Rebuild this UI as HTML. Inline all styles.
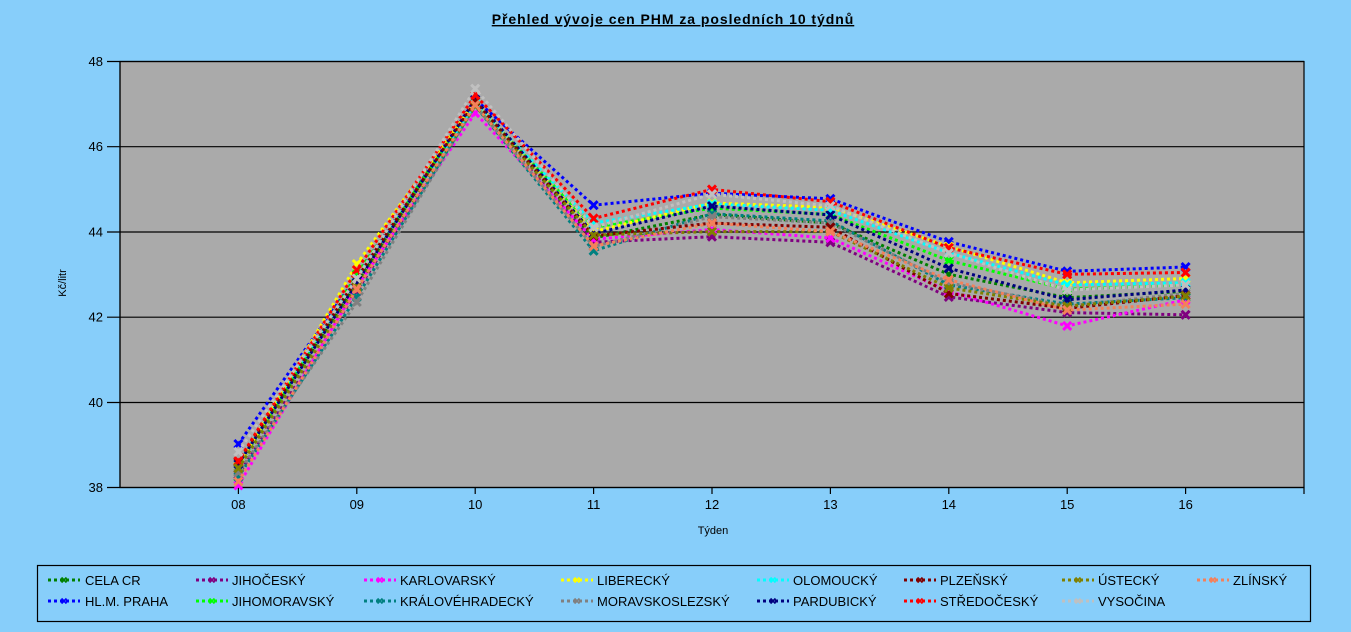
<!DOCTYPE html>
<html>
<head>
<meta charset="utf-8">
<style>
html,body{margin:0;padding:0;background:#87CEFA;}
svg{display:block;}
text{font-family:"Liberation Sans",Arial,sans-serif;fill:#000;}
</style>
</head>
<body>
<svg width="1351" height="632" viewBox="0 0 1351 632" xmlns="http://www.w3.org/2000/svg">
<defs>
<marker id="m1" markerWidth="12" markerHeight="12" refX="6" refY="6" markerUnits="userSpaceOnUse" overflow="visible"><path d="M2,2L10,10M2,10L10,2" stroke="#008000" stroke-width="3" fill="none"/></marker>
<marker id="m2" markerWidth="12" markerHeight="12" refX="6" refY="6" markerUnits="userSpaceOnUse" overflow="visible"><path d="M2,2L10,10M2,10L10,2" stroke="#0000FF" stroke-width="3" fill="none"/></marker>
<marker id="m3" markerWidth="12" markerHeight="12" refX="6" refY="6" markerUnits="userSpaceOnUse" overflow="visible"><path d="M2,2L10,10M2,10L10,2" stroke="#800080" stroke-width="3" fill="none"/></marker>
<marker id="m4" markerWidth="12" markerHeight="12" refX="6" refY="6" markerUnits="userSpaceOnUse" overflow="visible"><path d="M2,2L10,10M2,10L10,2" stroke="#00FF00" stroke-width="3" fill="none"/></marker>
<marker id="m5" markerWidth="12" markerHeight="12" refX="6" refY="6" markerUnits="userSpaceOnUse" overflow="visible"><path d="M2,2L10,10M2,10L10,2" stroke="#FF00FF" stroke-width="3" fill="none"/></marker>
<marker id="m6" markerWidth="12" markerHeight="12" refX="6" refY="6" markerUnits="userSpaceOnUse" overflow="visible"><path d="M2,2L10,10M2,10L10,2" stroke="#008080" stroke-width="3" fill="none"/></marker>
<marker id="m7" markerWidth="12" markerHeight="12" refX="6" refY="6" markerUnits="userSpaceOnUse" overflow="visible"><path d="M2,2L10,10M2,10L10,2" stroke="#FFFF00" stroke-width="3" fill="none"/></marker>
<marker id="m8" markerWidth="12" markerHeight="12" refX="6" refY="6" markerUnits="userSpaceOnUse" overflow="visible"><path d="M2,2L10,10M2,10L10,2" stroke="#808080" stroke-width="3" fill="none"/></marker>
<marker id="m9" markerWidth="12" markerHeight="12" refX="6" refY="6" markerUnits="userSpaceOnUse" overflow="visible"><path d="M2,2L10,10M2,10L10,2" stroke="#00FFFF" stroke-width="3" fill="none"/></marker>
<marker id="m10" markerWidth="12" markerHeight="12" refX="6" refY="6" markerUnits="userSpaceOnUse" overflow="visible"><path d="M2,2L10,10M2,10L10,2" stroke="#000080" stroke-width="3" fill="none"/></marker>
<marker id="m11" markerWidth="12" markerHeight="12" refX="6" refY="6" markerUnits="userSpaceOnUse" overflow="visible"><path d="M2,2L10,10M2,10L10,2" stroke="#800000" stroke-width="3" fill="none"/></marker>
<marker id="m12" markerWidth="12" markerHeight="12" refX="6" refY="6" markerUnits="userSpaceOnUse" overflow="visible"><path d="M2,2L10,10M2,10L10,2" stroke="#FF0000" stroke-width="3" fill="none"/></marker>
<marker id="m13" markerWidth="12" markerHeight="12" refX="6" refY="6" markerUnits="userSpaceOnUse" overflow="visible"><path d="M2,2L10,10M2,10L10,2" stroke="#808000" stroke-width="3" fill="none"/></marker>
<marker id="m14" markerWidth="12" markerHeight="12" refX="6" refY="6" markerUnits="userSpaceOnUse" overflow="visible"><path d="M2,2L10,10M2,10L10,2" stroke="#C0C0C0" stroke-width="3" fill="none"/></marker>
<marker id="m15" markerWidth="12" markerHeight="12" refX="6" refY="6" markerUnits="userSpaceOnUse" overflow="visible"><path d="M2,2L10,10M2,10L10,2" stroke="#F4805A" stroke-width="3" fill="none"/></marker>
</defs>

<rect x="0" y="0" width="1351" height="632" fill="#87CEFA"/>

<!-- title -->
<text x="673" y="24" text-anchor="middle" font-size="14" font-weight="bold" letter-spacing="0.95" text-decoration="underline">Přehled vývoje cen PHM za posledních 10 týdnů</text>

<!-- plot area -->
<rect x="120" y="61.5" width="1184" height="426" fill="#AAAAAA" stroke="#000" stroke-width="1.2"/>

<!-- gridlines & y ticks -->
<g stroke="#000" stroke-width="1.2">
<line x1="107" y1="61.5" x2="1304" y2="61.5"/>
<line x1="107" y1="146.7" x2="1304" y2="146.7"/>
<line x1="107" y1="232" x2="1304" y2="232"/>
<line x1="107" y1="317.2" x2="1304" y2="317.2"/>
<line x1="107" y1="402.5" x2="1304" y2="402.5"/>
<line x1="107" y1="487.5" x2="1304" y2="487.5"/>
<line x1="120" y1="61.5" x2="120" y2="487.5"/>
<line x1="238.4" y1="487.5" x2="238.4" y2="494"/>
<line x1="356.8" y1="487.5" x2="356.8" y2="494"/>
<line x1="475.2" y1="487.5" x2="475.2" y2="494"/>
<line x1="593.6" y1="487.5" x2="593.6" y2="494"/>
<line x1="712" y1="487.5" x2="712" y2="494"/>
<line x1="830.4" y1="487.5" x2="830.4" y2="494"/>
<line x1="948.8" y1="487.5" x2="948.8" y2="494"/>
<line x1="1067.2" y1="487.5" x2="1067.2" y2="494"/>
<line x1="1185.6" y1="487.5" x2="1185.6" y2="494"/>
<line x1="1304" y1="487.5" x2="1304" y2="494"/>
</g>

<!-- y labels -->
<g font-size="13" text-anchor="end">
<text x="103" y="66">48</text>
<text x="103" y="151">46</text>
<text x="103" y="236.5">44</text>
<text x="103" y="321.5">42</text>
<text x="103" y="407">40</text>
<text x="103" y="492">38</text>
</g>
<text transform="translate(66,283) rotate(-90)" font-size="11" text-anchor="middle">Kč/litr</text>

<!-- x labels -->
<g font-size="13" text-anchor="middle">
<text x="238.4" y="509">08</text>
<text x="356.8" y="509">09</text>
<text x="475.2" y="509">10</text>
<text x="593.6" y="509">11</text>
<text x="712" y="509">12</text>
<text x="830.4" y="509">13</text>
<text x="948.8" y="509">14</text>
<text x="1067.2" y="509">15</text>
<text x="1185.6" y="509">16</text>
</g>
<text x="713" y="534" font-size="11" text-anchor="middle">Týden</text>

<!-- series -->
<g fill="none" stroke-width="3" stroke-dasharray="3 3">
<polyline stroke="#008000" marker-start="url(#m1)" marker-mid="url(#m1)" marker-end="url(#m1)" points="238.4,468.3 356.8,282.8 475.2,101.5 593.6,238.0 712,214.5 830.4,223.1 948.8,274.3 1067.2,297.7 1185.6,291.3"/>
<polyline stroke="#0000FF" marker-start="url(#m2)" marker-mid="url(#m2)" marker-end="url(#m2)" points="238.4,444.0 356.8,276.4 475.2,99.4 593.6,205.2 712,193.2 830.4,198.8 948.8,241.8 1067.2,271.3 1185.6,267.0"/>
<polyline stroke="#800080" marker-start="url(#m3)" marker-mid="url(#m3)" marker-end="url(#m3)" points="238.4,474.7 356.8,291.3 475.2,105.8 593.6,242.3 712,236.7 830.4,242.3 948.8,296.9 1067.2,312.6 1185.6,314.8"/>
<polyline stroke="#00FF00" marker-start="url(#m4)" marker-mid="url(#m4)" marker-end="url(#m4)" points="238.4,466.2 356.8,274.3 475.2,103.7 593.6,227.3 712,208.1 830.4,214.5 948.8,260.6 1067.2,289.2 1185.6,284.9"/>
<polyline stroke="#FF00FF" marker-start="url(#m5)" marker-mid="url(#m5)" marker-end="url(#m5)" points="238.4,485.4 356.8,287.0 475.2,113.0 593.6,239.3 712,229.5 830.4,238.0 948.8,291.3 1067.2,325.9 1185.6,299.8"/>
<polyline stroke="#008080" marker-start="url(#m6)" marker-mid="url(#m6)" marker-end="url(#m6)" points="238.4,476.8 356.8,296.9 475.2,105.8 593.6,250.8 712,213.7 830.4,220.9 948.8,284.9 1067.2,304.1 1185.6,297.7"/>
<polyline stroke="#FFFF00" marker-start="url(#m7)" marker-mid="url(#m7)" marker-end="url(#m7)" points="238.4,466.2 356.8,264.0 475.2,101.5 593.6,231.6 712,203.0 830.4,207.3 948.8,246.5 1067.2,282.8 1185.6,278.5"/>
<polyline stroke="#808080" marker-start="url(#m8)" marker-mid="url(#m8)" marker-end="url(#m8)" points="238.4,472.6 356.8,302.0 475.2,105.8 593.6,246.5 712,216.7 830.4,223.1 948.8,282.8 1067.2,306.2 1185.6,293.4"/>
<polyline stroke="#00FFFF" marker-start="url(#m9)" marker-mid="url(#m9)" marker-end="url(#m9)" points="238.4,464.0 356.8,278.5 475.2,103.7 593.6,223.1 712,203.9 830.4,210.3 948.8,252.9 1067.2,284.9 1185.6,282.8"/>
<polyline stroke="#000080" marker-start="url(#m10)" marker-mid="url(#m10)" marker-end="url(#m10)" points="238.4,464.0 356.8,282.8 475.2,99.4 593.6,233.7 712,206.0 830.4,215.0 948.8,268.3 1067.2,299.8 1185.6,290.0"/>
<polyline stroke="#800000" marker-start="url(#m11)" marker-mid="url(#m11)" marker-end="url(#m11)" points="238.4,461.9 356.8,278.5 475.2,101.5 593.6,235.9 712,223.1 830.4,227.3 948.8,293.4 1067.2,308.4 1185.6,295.6"/>
<polyline stroke="#FF0000" marker-start="url(#m12)" marker-mid="url(#m12)" marker-end="url(#m12)" points="238.4,461.1 356.8,270.0 475.2,95.1 593.6,218.4 712,189.4 830.4,201.7 948.8,247.8 1067.2,274.3 1185.6,272.5"/>
<polyline stroke="#808000" marker-start="url(#m13)" marker-mid="url(#m13)" marker-end="url(#m13)" points="238.4,468.3 356.8,287.0 475.2,105.8 593.6,235.0 712,231.6 830.4,231.6 948.8,287.9 1067.2,306.2 1185.6,296.0"/>
<polyline stroke="#C0C0C0" marker-start="url(#m14)" marker-mid="url(#m14)" marker-end="url(#m14)" points="238.4,451.7 356.8,278.5 475.2,88.7 593.6,227.3 712,194.1 830.4,206.0 948.8,252.9 1067.2,290.0 1185.6,284.9"/>
<polyline stroke="#F4805A" marker-start="url(#m15)" marker-mid="url(#m15)" marker-end="url(#m15)" points="238.4,481.5 356.8,289.2 475.2,104.9 593.6,246.1 712,223.1 830.4,231.6 948.8,279.8 1067.2,310.1 1185.6,304.1"/>
</g>

<!-- legend -->
<rect x="37.5" y="565.5" width="1273" height="56" fill="none" stroke="#000" stroke-width="1.2"/>
<g fill="none" stroke-width="3" stroke-dasharray="3 3">
<line x1="48" y1="580" x2="80" y2="580" stroke="#008000"/>
<line x1="48" y1="601" x2="80" y2="601" stroke="#0000FF"/>
<line x1="196" y1="580" x2="228" y2="580" stroke="#800080"/>
<line x1="196" y1="601" x2="228" y2="601" stroke="#00FF00"/>
<line x1="364" y1="580" x2="396" y2="580" stroke="#FF00FF"/>
<line x1="364" y1="601" x2="396" y2="601" stroke="#008080"/>
<line x1="561" y1="580" x2="593" y2="580" stroke="#FFFF00"/>
<line x1="561" y1="601" x2="593" y2="601" stroke="#808080"/>
<line x1="757" y1="580" x2="789" y2="580" stroke="#00FFFF"/>
<line x1="757" y1="601" x2="789" y2="601" stroke="#000080"/>
<line x1="904" y1="580" x2="936" y2="580" stroke="#800000"/>
<line x1="904" y1="601" x2="936" y2="601" stroke="#FF0000"/>
<line x1="1062" y1="580" x2="1094" y2="580" stroke="#808000"/>
<line x1="1062" y1="601" x2="1094" y2="601" stroke="#C0C0C0"/>
<line x1="1197" y1="580" x2="1229" y2="580" stroke="#F4805A"/>
</g>
<g stroke-width="1.8" fill="none">
<path d="M61.5,577.5L66.5,582.5M61.5,582.5L66.5,577.5" stroke="#008000"/>
<path d="M61.5,598.5L66.5,603.5M61.5,603.5L66.5,598.5" stroke="#0000FF"/>
<path d="M209.5,577.5L214.5,582.5M209.5,582.5L214.5,577.5" stroke="#800080"/>
<path d="M209.5,598.5L214.5,603.5M209.5,603.5L214.5,598.5" stroke="#00FF00"/>
<path d="M377.5,577.5L382.5,582.5M377.5,582.5L382.5,577.5" stroke="#FF00FF"/>
<path d="M377.5,598.5L382.5,603.5M377.5,603.5L382.5,598.5" stroke="#008080"/>
<path d="M574.5,577.5L579.5,582.5M574.5,582.5L579.5,577.5" stroke="#FFFF00"/>
<path d="M574.5,598.5L579.5,603.5M574.5,603.5L579.5,598.5" stroke="#808080"/>
<path d="M770.5,577.5L775.5,582.5M770.5,582.5L775.5,577.5" stroke="#00FFFF"/>
<path d="M770.5,598.5L775.5,603.5M770.5,603.5L775.5,598.5" stroke="#000080"/>
<path d="M917.5,577.5L922.5,582.5M917.5,582.5L922.5,577.5" stroke="#800000"/>
<path d="M917.5,598.5L922.5,603.5M917.5,603.5L922.5,598.5" stroke="#FF0000"/>
<path d="M1075.5,577.5L1080.5,582.5M1075.5,582.5L1080.5,577.5" stroke="#808000"/>
<path d="M1075.5,598.5L1080.5,603.5M1075.5,603.5L1080.5,598.5" stroke="#C0C0C0"/>
<path d="M1210.5,577.5L1215.5,582.5M1210.5,582.5L1215.5,577.5" stroke="#F4805A"/>
</g>
<g font-size="13">
<text x="85" y="585">CELA CR</text>
<text x="85" y="606">HL.M. PRAHA</text>
<text x="232" y="585">JIHOČESKÝ</text>
<text x="232" y="606">JIHOMORAVSKÝ</text>
<text x="400" y="585">KARLOVARSKÝ</text>
<text x="400" y="606">KRÁLOVÉHRADECKÝ</text>
<text x="597" y="585">LIBERECKÝ</text>
<text x="597" y="606">MORAVSKOSLEZSKÝ</text>
<text x="793" y="585">OLOMOUCKÝ</text>
<text x="793" y="606">PARDUBICKÝ</text>
<text x="940" y="585">PLZEŇSKÝ</text>
<text x="940" y="606">STŘEDOČESKÝ</text>
<text x="1098" y="585">ÚSTECKÝ</text>
<text x="1098" y="606">VYSOČINA</text>
<text x="1233" y="585">ZLÍNSKÝ</text>
</g>
</svg>
</body>
</html>
